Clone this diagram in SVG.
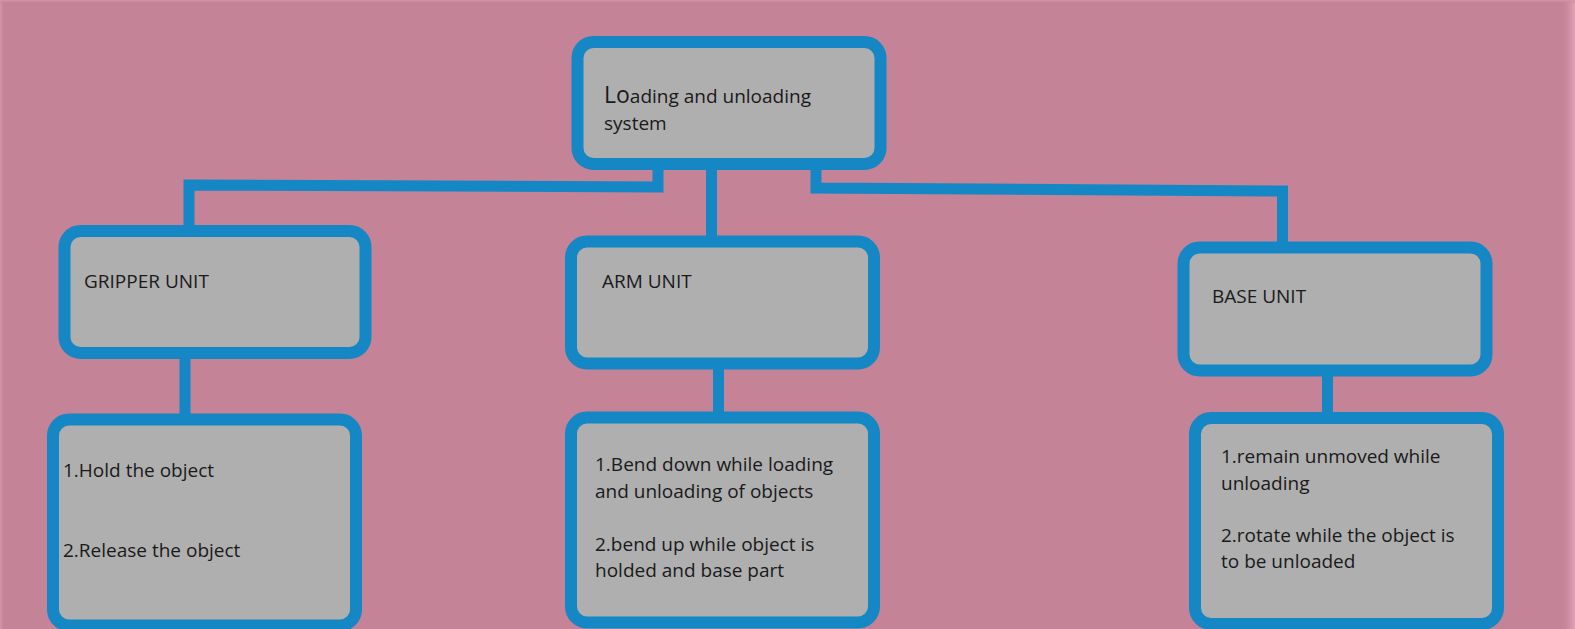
<svg xmlns="http://www.w3.org/2000/svg" width="1575" height="629" viewBox="0 0 1575 629">
<defs>
<linearGradient id="edgeR" x1="0" y1="0" x2="1" y2="0">
<stop offset="0" stop-color="#c48396" stop-opacity="0"/>
<stop offset="1" stop-color="#e3a3b8"/>
</linearGradient>
<linearGradient id="edgeL" x1="1" y1="0" x2="0" y2="0">
<stop offset="0" stop-color="#c48396" stop-opacity="0"/>
<stop offset="1" stop-color="#d896ab"/>
</linearGradient>
<linearGradient id="edgeT" x1="0" y1="1" x2="0" y2="0">
<stop offset="0" stop-color="#c48396" stop-opacity="0"/>
<stop offset="1" stop-color="#d896ab"/>
</linearGradient>
</defs>
<style>
.box{fill:#afafaf;stroke:#1587c5;stroke-width:12}
.conn{fill:none;stroke:#1587c5;stroke-width:11;stroke-linejoin:miter}
text{font-family:"Open Sans","Noto Sans","Liberation Sans",sans-serif;font-size:19px;fill:#1a1a1a}
</style>
<rect x="0" y="0" width="1575" height="629" fill="#c48396"/>
<rect x="1560" y="0" width="15" height="629" fill="url(#edgeR)"/>
<rect x="0" y="0" width="5" height="629" fill="url(#edgeL)"/>
<rect x="0" y="0" width="1575" height="4" fill="url(#edgeT)"/>

<g id="connectors">
<path class="conn" d="M658,166 L658,187 L189,185 L189,232"/>
<path class="conn" d="M711.5,166 L711.5,242"/>
<path class="conn" d="M816,166 L816,188 L1282.5,191 L1282.5,248"/>
<path class="conn" d="M185,356 L185,420"/>
<path class="conn" d="M718.5,366 L718.5,418"/>
<path class="conn" d="M1327.5,372 L1327.5,419"/>
</g>

<g id="root">
<rect class="box" x="577.5" y="42" width="303" height="122" rx="16"/>
<text x="604" y="103"><tspan font-size="23">Lo</tspan>ading and unloading</text>
<text x="604" y="130">system</text>
</g>

<g id="gripper">
<rect class="box" x="64.5" y="231" width="301" height="122" rx="16"/>
<text x="84" y="288">GRIPPER UNIT</text>
</g>

<g id="arm">
<rect class="box" x="571" y="241.5" width="303" height="122" rx="16"/>
<text x="602" y="288">ARM UNIT</text>
</g>

<g id="base">
<rect class="box" x="1183.5" y="247.5" width="303" height="123" rx="16"/>
<text x="1212" y="303">BASE UNIT</text>
</g>

<g id="gripper-tasks">
<rect class="box" x="53" y="419.5" width="303" height="206" rx="16"/>
<text x="63" y="477">1.Hold the object</text>
<text x="63" y="557">2.Release the object</text>
</g>

<g id="arm-tasks">
<rect class="box" x="571" y="417.5" width="303" height="205" rx="16"/>
<text x="595" y="471">1.Bend down while loading</text>
<text x="595" y="498">and unloading of objects</text>
<text x="595" y="551">2.bend up while object is</text>
<text x="595" y="577">holded and base part</text>
</g>

<g id="base-tasks">
<rect class="box" x="1195" y="418" width="303" height="206" rx="16"/>
<text x="1221" y="463">1.remain unmoved while</text>
<text x="1221" y="490">unloading</text>
<text x="1221" y="542">2.rotate while the object is</text>
<text x="1221" y="568">to be unloaded</text>
</g>
</svg>
